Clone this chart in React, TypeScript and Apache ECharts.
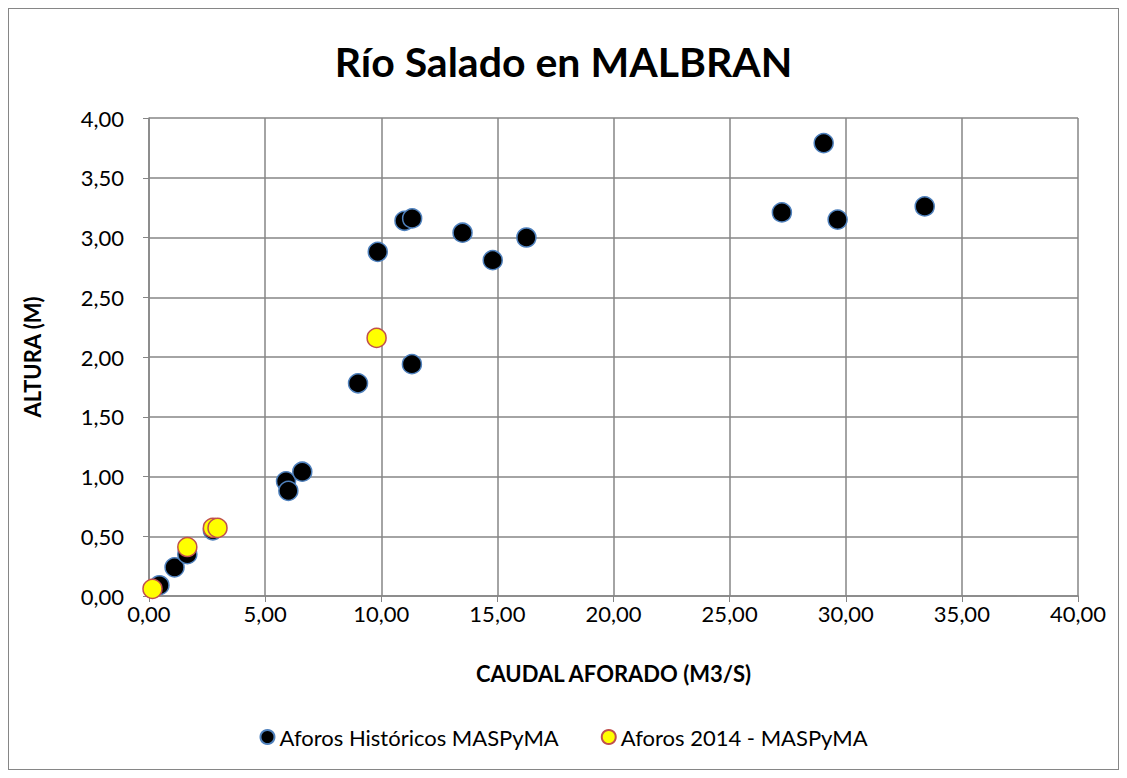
import React, { useEffect, useRef } from "react";
import * as echarts from "echarts";

const historicX = [0.45, 1.1, 1.65, 2.75, 5.9, 6.0, 6.6, 9.0, 9.85, 11.0, 11.33, 11.32, 13.5, 14.8, 16.25, 27.25, 29.05, 29.65, 33.4];
const historicY = [0.09, 0.24, 0.35, 0.55, 0.96, 0.88, 1.04, 1.78, 2.88, 3.14, 3.16, 1.94, 3.04, 2.81, 3.0, 3.21, 3.79, 3.15, 3.26];
const recentX = [0.15, 1.65, 2.75, 2.95, 9.8];
const recentY = [0.06, 0.41, 0.57, 0.57, 2.16];

const title = "Río Salado en MALBRAN";
const xName = "CAUDAL AFORADO (M3/S)";
const yName = "ALTURA (M)";
const seriesNames = ["Aforos Históricos MASPyMA", "Aforos 2014 - MASPyMA"];

const fmt = (v: number) => v.toFixed(2).replace(".", ",");
const FONT = "Lato, 'Liberation Sans', sans-serif";

export default function App() {
  const ref = useRef<HTMLDivElement>(null);
  useEffect(() => {
    if (!ref.current) return;
    const chart = echarts.init(ref.current, null, { renderer: "svg" });
    chart.setOption({
      animation: false,
      backgroundColor: "#ffffff",
      title: {
        text: title,
        left: "center",
        top: 27,
        textStyle: { fontFamily: FONT, fontSize: 41, fontWeight: "bold", color: "#000" },
      },
      legend: {
        bottom: 16,
        left: "center",
        itemGap: 42,
        itemWidth: 14,
        itemHeight: 14,
        textStyle: { fontFamily: FONT, fontSize: 22, color: "#000" },
        data: seriesNames.map((n) => ({ name: n, icon: "circle" })),
      },
      grid: { left: 140, right: 40, top: 109, bottom: 173 },
      xAxis: {
        type: "value",
        min: 0,
        max: 40,
        interval: 5,
        name: xName,
        nameLocation: "middle",
        nameGap: 66,
        nameTextStyle: { fontFamily: FONT, fontSize: 22, fontWeight: "bold", color: "#000" },
        axisLine: { lineStyle: { color: "#868686", width: 1.5 } },
        axisTick: { show: true, length: 6, inside: false, lineStyle: { color: "#868686" } },
        axisLabel: { formatter: fmt, fontFamily: FONT, fontSize: 22, color: "#000", margin: 6 },
        splitLine: { show: true, lineStyle: { color: "#868686", width: 1.5 } },
      },
      yAxis: {
        type: "value",
        min: 0,
        max: 4,
        interval: 0.5,
        name: yName,
        nameLocation: "middle",
        nameGap: 106,
        nameRotate: 90,
        nameTextStyle: { fontFamily: FONT, fontSize: 22, fontWeight: "bold", color: "#000" },
        axisLine: { show: true, lineStyle: { color: "#868686", width: 1.5 } },
        axisTick: { show: true, length: 6, lineStyle: { color: "#868686" } },
        axisLabel: { formatter: fmt, fontFamily: FONT, fontSize: 22, color: "#000", margin: 25 },
        splitLine: { show: true, lineStyle: { color: "#868686", width: 1.5 } },
      },
      series: [
        {
          name: seriesNames[0],
          type: "scatter",
          symbol: "circle",
          symbolSize: 19,
          itemStyle: { color: "#000000", borderColor: "#4f81bd", borderWidth: 1.5, opacity: 1 },
          data: historicX.map((x, i) => [x, historicY[i]]),
        },
        {
          name: seriesNames[1],
          type: "scatter",
          symbol: "circle",
          symbolSize: 19,
          itemStyle: { color: "#ffff00", borderColor: "#c0504d", borderWidth: 1.5, opacity: 1 },
          data: recentX.map((x, i) => [x, recentY[i]]),
        },
      ],
    });
    return () => chart.dispose();
  }, []);
  return (
    <div
      ref={ref}
      style={{ width: 1111, height: 762, border: "1px solid #868686", boxSizing: "border-box" }}
    />
  );
}
